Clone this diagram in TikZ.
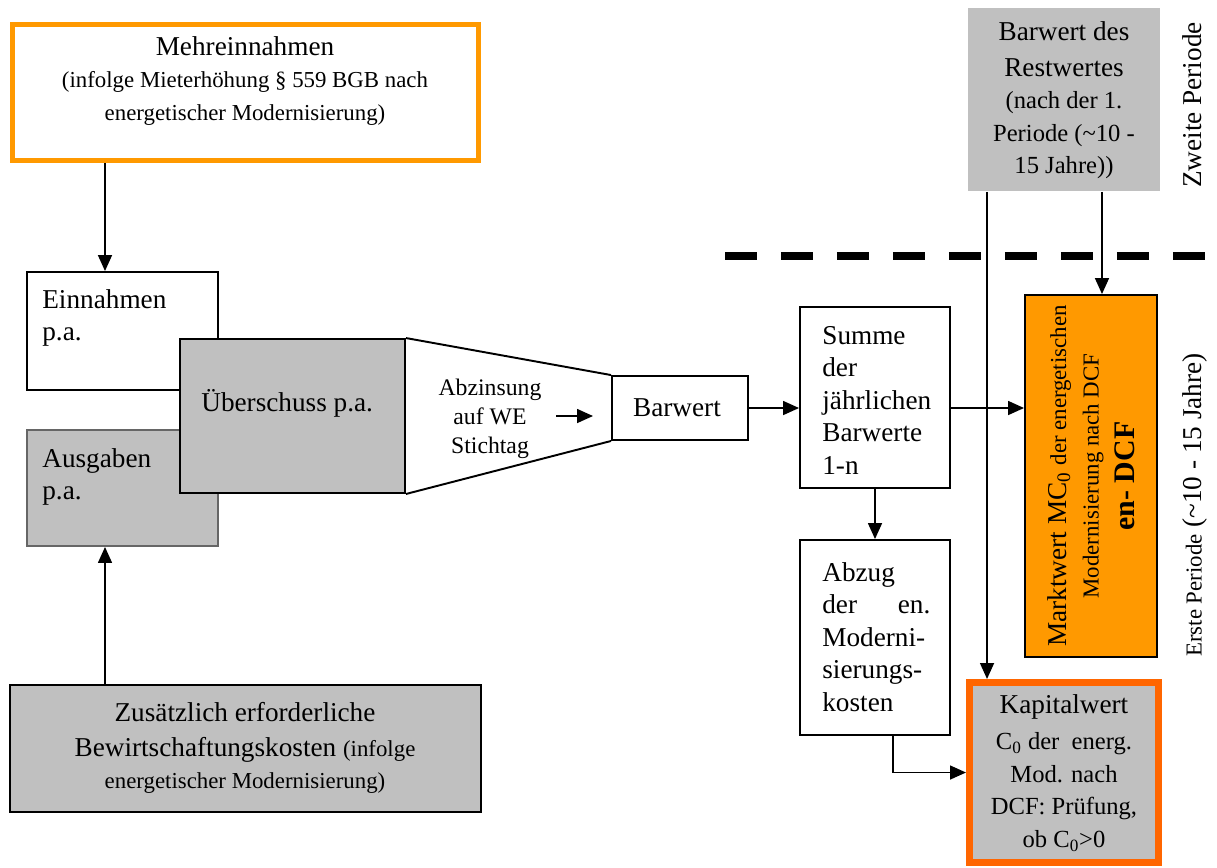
\documentclass[tikz,border=0pt]{standalone}
\usepackage{fontspec}
\setmainfont{Liberation Serif}
\usetikzlibrary{arrows.meta,fit,positioning}
\definecolor{hellorange}{HTML}{FF9900}
\definecolor{rotorange}{HTML}{FF6600}
\definecolor{kastengrau}{HTML}{C0C0C0}
\newcommand{\gross}{\fontsize{15.5}{18.5}\selectfont}
\newcommand{\mittel}{\fontsize{14}{16}\selectfont}
\newcommand{\klein}{\fontsize{13}{15.5}\selectfont}

\begin{document}
\begin{tikzpicture}[
		x=0.02cm, y=-0.02cm,
		box/.style={draw, line width=1.1pt, inner sep=0pt, fill=white},
		graubox/.style={box, fill=kastengrau},
		txt/.style={inner sep=0pt, font=\gross},
		pfeil/.style={draw, line width=0.9pt, -{Triangle[length=0.32cm,width=0.28cm]}},
		periode/.style={line width=0.16cm, dash pattern=on 0.64cm off 0.48cm}
	]
	\useasboundingbox (0,0) rectangle (1217,867);

	% linke Seite
	\node[box, draw=hellorange, line width=2.8pt, fit={(12.5,24.5) (478.5,160.5)}] (mehr) {};
	\node[txt, align=center] (mehrT) at (245,81)
		{Mehreinnahmen\\\klein (infolge Mieterhöhung § 559 BGB nach\\\klein energetischer Modernisierung)};

	\node[box, fit={(27,272) (218,390)}] (einnahmen) {};
	\node[txt, align=left, anchor=west] (einnahmenT) at (42,318) {Einnahmen\\p.a.};
	\node[graubox, draw=black!60, fit={(27,430) (218,546)}] (ausgaben) {};
	\node[txt, align=left, anchor=west] (ausgabenT) at (42,477) {Ausgaben\\p.a.};
	\node[graubox, fit={(180,339) (405,493)}] (ueber) {};
	\node[txt, anchor=west] (ueberT) at (201,403) {Überschuss p.a.};

	\node[graubox, fit={(10,685) (481,812)}] (zus) {};
	\node[txt, align=center] (zusT) at (245,748)
		{Zusätzlich erforderliche\\[1pt]Bewirtschaftungskosten {\klein (infolge}\\\klein energetischer Modernisierung)};

	% Abzinsung
	\node[box, fit={(612,376) (748,440)}] (barwert) {};
	\node[txt] (barwertT) at (677,408) {Barwert};
	\draw[line width=1.1pt] (ueber.north east) -- (barwert.north west);
	\draw[line width=1.1pt] (ueber.south east) -- (barwert.south west);
	\node[txt, align=center, font=\fontsize{13.5}{16.5}\selectfont] (abzins) at (490,419) {Abzinsung\\auf WE\\Stichtag};
	\coordinate (abzinsA) at (556,416);
	\coordinate (abzinsB) at (593,416);
	\draw[pfeil] (abzinsA) -- (abzinsB);

	% rechte Seite
	\node[box, fit={(800,307) (950,488)}] (summe) {};
	\node[txt, align=left, anchor=west] (summeT) at (822,400) {Summe\\der\\jährlichen\\Barwerte\\1-n};
	\node[box, fit={(800,540) (950,735)}] (abzug) {};
	\node[txt, align=left, anchor=west, text width=2.16cm] (abzugT) at (822,637)
		{Abzug\\\makebox[2.16cm][l]{der\hfill en.}\\Moderni-\\sierungs-\\kosten};

	\node[graubox, draw=none, fit={(968,8) (1160,191)}] (restwert) {};
	\node[txt, align=center] (restwertT) at (1064,100)
		{Barwert des\\[2pt]Restwertes\\\mittel (nach der 1.\\\mittel Periode (\textasciitilde 10 -\\\mittel 15 Jahre))};

	\node[box, fill=hellorange, fit={(1025,295) (1157,657)}] (markt) {};
	\node[txt, align=center, rotate=90] (marktT) at (1091,476)
		{\gross Marktwert MC\textsubscript{0} \klein der energetischen\\\klein Modernisierung nach DCF\\[2pt]\fontsize{17}{19}\selectfont\bfseries en- DCF};

	\node[graubox, draw=rotorange, line width=4pt, fit={(969.5,682.5) (1158.5,862.5)}] (kapital) {};
	\node[txt, align=center] (kapitalT) at (1064,773)
		{Kapitalwert\\[2pt]\mittel C\textsubscript{0} der~ energ.\\\mittel Mod. nach\\\mittel DCF: Prüfung,\\\mittel ob C\textsubscript{0}>0};

	\node[txt, rotate=90] (zweite) at (1192,105) {Zweite Periode};
	\node[txt, rotate=90] (erste) at (1195,505) {{\klein Erste Periode} (\textasciitilde 10 - 15 Jahre)};

	\coordinate (trennA) at (725,256);
	\coordinate (trennB) at (1212,256);
	\draw[periode] (trennA) -- (trennB);

	% Pfeile
	\draw[pfeil] ([xshift=-0.35cm]einnahmen.north |- mehr.south) -- ([xshift=-0.35cm]einnahmen.north);
	\draw[pfeil] ([xshift=-0.35cm]ausgaben.south |- zus.north) -- ([xshift=-0.35cm]ausgaben.south);
	\draw[pfeil] (barwert.east) -- (summe.west |- barwert.east);
	\draw[pfeil] (summe.east |- barwert.east) -- (markt.west |- barwert.east);
	\draw[pfeil] (summe.south) -- (abzug.north);
	\draw[pfeil] ([xshift=0.36cm]abzug.south) |- (kapital.west);
	\draw[pfeil] ([xshift=0.4cm]restwert.south west) -- ([xshift=0.4cm]restwert.south west |- kapital.north);
	\draw[pfeil] ([xshift=0.76cm]restwert.south) -- ([xshift=0.76cm]restwert.south |- markt.north);
\end{tikzpicture}
\end{document}
